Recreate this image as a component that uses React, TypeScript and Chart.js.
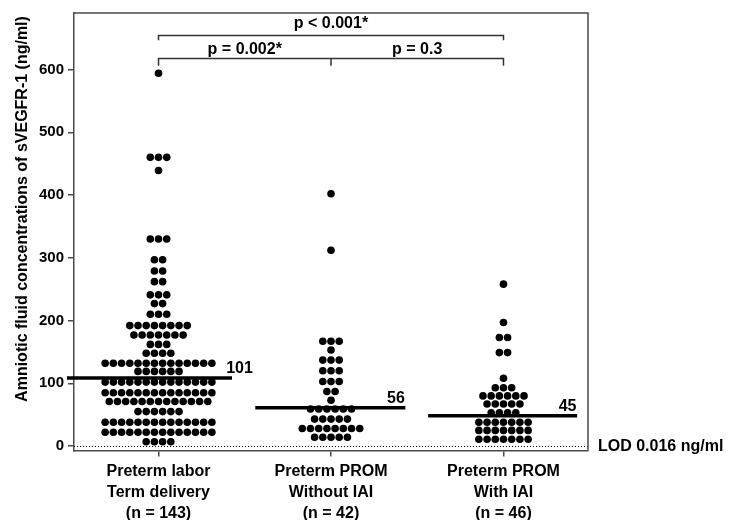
import React, { useEffect, useRef } from 'react';
import { Chart, registerables } from 'chart.js';

Chart.register(...registerables);

const FONT = "'Liberation Sans', Arial, Helvetica, sans-serif";

// Category labels (multi-line)
const categories: string[][] = [
  ['Preterm labor', 'Term delivery', '(n = 143)'],
  ['Preterm PROM', 'Without IAI', '(n = 42)'],
  ['Preterm PROM', 'With IAI', '(n = 46)'],
];

// Dot rows (value level, number of dots at that level) per group
const g1Levels = [7, 22, 38, 55, 71, 85, 102, 119, 132, 148, 162, 177, 192, 210, 227, 241, 262, 279, 297, 330, 439, 460, 594];
const g1Counts = [4, 14, 14, 6, 13, 14, 14, 6, 14, 4, 3, 7, 8, 3, 2, 3, 2, 2, 2, 3, 1, 3, 1];

const g2Levels = [14, 28, 43, 59, 73, 87, 103, 120, 137, 153, 167, 312, 402];
const g2Counts = [5, 8, 5, 6, 1, 2, 3, 3, 3, 1, 3, 1, 1];

const g3Levels = [11, 25, 38, 53, 67, 80, 93, 108, 149, 173, 197, 258];
const g3Counts = [7, 7, 7, 4, 5, 6, 3, 1, 2, 2, 1, 1];

// Median lines and their labels
const medianValues = [108.5, 61, 48.5];
const medianLabels = ['101', '56', '45'];

// Y ticks
const yTicks = [0, 100, 200, 300, 400, 500, 600];

// Significance annotations
const pTop = 'p < 0.001*';
const pLeft = 'p = 0.002*';
const pRight = 'p = 0.3';

const lodValue = 0;
const lodLabel = 'LOD 0.016 ng/ml';
const yTitle = 'Amniotic fluid concentrations of sVEGFR-1 (ng/ml)';

const DOT_STEP = 0.0476; // horizontal spacing of dots in category units

function swarm(groupIndex: number, levels: number[], counts: number[]) {
  const pts: { x: number; y: number }[] = [];
  levels.forEach((v, i) => {
    const n = counts[i];
    for (let k = 0; k < n; k++) {
      pts.push({ x: groupIndex + (k - (n - 1) / 2) * DOT_STEP, y: v });
    }
  });
  return pts;
}

const medianExtents = [
  [-0.531, 0.426],
  [-0.439, 0.431],
  [-0.437, 0.427],
];
const medianLabelOffsets = [0.392, 0.325, 0.32];

const overlay = {
  id: 'overlay',
  beforeDatasetsDraw(chart: any) {
    const { ctx, chartArea: a, scales } = chart;
    const y = scales.y;
    ctx.save();
    ctx.strokeStyle = '#000';
    ctx.lineWidth = 1;
    ctx.setLineDash([1, 2]);
    const y0 = Math.round(y.getPixelForValue(lodValue)) + 0.5;
    ctx.beginPath();
    ctx.moveTo(a.left, y0);
    ctx.lineTo(a.right, y0);
    ctx.stroke();
    ctx.restore();
  },
  afterDraw(chart: any) {
    const { ctx, chartArea: a, scales } = chart;
    const x = scales.x;
    const y = scales.y;
    ctx.save();
    // frame top and right
    ctx.strokeStyle = '#4a4a4a';
    ctx.lineWidth = 1.5;
    ctx.beginPath();
    ctx.moveTo(a.left, a.top);
    ctx.lineTo(a.right, a.top);
    ctx.lineTo(a.right, a.bottom);
    ctx.stroke();

    // brackets
    const x0 = x.getPixelForValue(0);
    const x1 = x.getPixelForValue(1);
    const x2 = x.getPixelForValue(2);
    ctx.strokeStyle = '#333';
    ctx.lineWidth = 1.5;
    const yb1 = y.getPixelForValue(654);
    const yb1t = y.getPixelForValue(646.5);
    ctx.beginPath();
    ctx.moveTo(x0, yb1t);
    ctx.lineTo(x0, yb1);
    ctx.lineTo(x2, yb1);
    ctx.lineTo(x2, yb1t);
    ctx.stroke();
    const yb2 = y.getPixelForValue(617.7);
    const yb2t = y.getPixelForValue(605.8);
    ctx.beginPath();
    ctx.moveTo(x0, yb2t);
    ctx.lineTo(x0, yb2);
    ctx.lineTo(x2, yb2);
    ctx.lineTo(x2, yb2t);
    ctx.moveTo(x1, yb2);
    ctx.lineTo(x1, yb2t);
    ctx.stroke();

    ctx.fillStyle = '#000';
    ctx.font = `bold 16px ${FONT}`;
    ctx.textAlign = 'center';
    ctx.textBaseline = 'middle';
    ctx.fillText(pTop, (x0 + x2) / 2, y.getPixelForValue(673.5));
    ctx.fillText(pLeft, (x0 + x1) / 2, y.getPixelForValue(631.5));
    ctx.fillText(pRight, (x1 + x2) / 2, y.getPixelForValue(631.5));

    // median labels
    ctx.textAlign = 'left';
    ctx.textBaseline = 'alphabetic';
    medianLabels.forEach((lab, i) => {
      ctx.fillText(lab, x.getPixelForValue(i + medianLabelOffsets[i]), y.getPixelForValue(medianValues[i]) - 5);
    });

    // LOD label
    ctx.textBaseline = 'middle';
    ctx.fillText(lodLabel, a.right + 10, y.getPixelForValue(lodValue) + 0.5);

    // y title
    ctx.translate(22.5, 209);
    ctx.rotate(-Math.PI / 2);
    ctx.textAlign = 'center';
    ctx.textBaseline = 'middle';
    ctx.fillText(yTitle, 0, 0);
    ctx.restore();
  },
};

export default function App() {
  const ref = useRef<HTMLCanvasElement | null>(null);
  useEffect(() => {
    if (!ref.current) return;
    const dotSets = [
      swarm(0, g1Levels, g1Counts),
      swarm(1, g2Levels, g2Counts),
      swarm(2, g3Levels, g3Counts),
    ].map((d) => ({
      type: 'scatter' as const,
      data: d,
      pointRadius: 3.8,
      pointBackgroundColor: '#000',
      pointBorderWidth: 0,
      pointHoverRadius: 3.8,
    }));
    const medianSets = medianValues.map((m, i) => ({
      type: 'line' as const,
      data: [
        { x: i + medianExtents[i][0], y: m },
        { x: i + medianExtents[i][1], y: m },
      ],
      borderColor: '#000',
      borderWidth: 3.5,
      pointRadius: 0,
      clip: false as any,
    }));
    const axisColor = '#4a4a4a';
    const chart = new Chart(ref.current, {
      type: 'scatter',
      data: { datasets: [...medianSets, ...dotSets] as any },
      options: {
        responsive: false,
        animation: false,
        events: [],
        layout: { padding: { left: 0, top: 6, right: 141, bottom: 0 } },
        plugins: { legend: { display: false }, tooltip: { enabled: false } },
        scales: {
          x: {
            type: 'linear',
            min: -0.49,
            max: 2.49,
            position: 'bottom',
            afterBuildTicks: (s: any) => {
              s.ticks = [0, 1, 2].map((v) => ({ value: v }));
            },
            afterFit: (s: any) => {
              s.height = 69.5;
            },
            ticks: {
              callback: (_v: any, i: number) => categories[i],
              font: { family: FONT, size: 16, weight: 'bold', lineHeight: 21 / 16 },
              color: '#000',
              padding: 5,
              maxRotation: 0,
              autoSkip: false,
            },
            grid: { display: true, drawOnChartArea: false, drawTicks: true, tickLength: 6, color: axisColor, lineWidth: 1.5 },
            border: { display: true, color: axisColor, width: 1.5 },
          },
          y: {
            type: 'linear',
            min: -7,
            max: 690,
            afterBuildTicks: (s: any) => {
              s.ticks = yTicks.map((v) => ({ value: v }));
            },
            afterFit: (s: any) => {
              s.width = 74;
            },
            ticks: {
              font: { family: FONT, size: 15, weight: 'bold' },
              color: '#000',
              padding: 4,
            },
            grid: { display: true, drawOnChartArea: false, drawTicks: true, tickLength: 6, color: axisColor, lineWidth: 1.5 },
            border: { display: true, color: axisColor, width: 1.5 },
          },
        },
      },
      plugins: [overlay],
    } as any);
    return () => chart.destroy();
  }, []);
  return (
    <div style={{ position: 'absolute', left: 0, top: 0, width: 729, height: 520, background: '#fff' }}>
      <canvas ref={ref} width={729} height={520} style={{ display: 'block' }} />
    </div>
  );
}
